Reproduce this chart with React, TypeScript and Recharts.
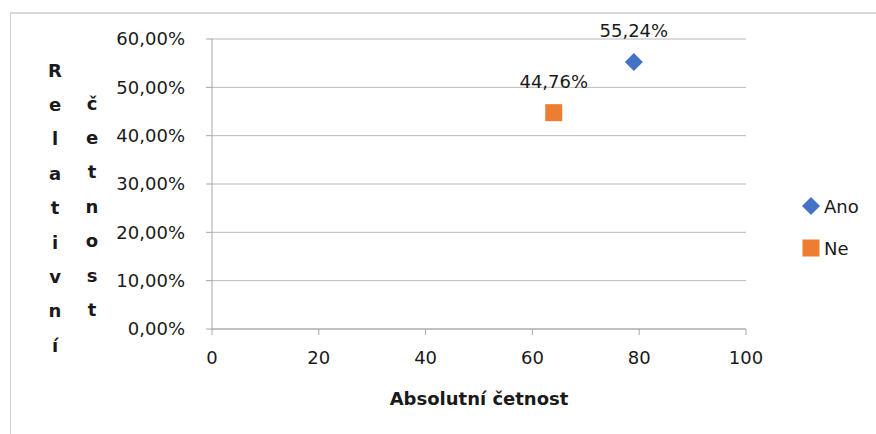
import type { JSX } from 'react';
import {
  CartesianGrid,
  Label,
  Legend,
  Scatter,
  ScatterChart,
  XAxis,
  YAxis,
} from 'recharts';

const seriesNames = ['Ano', 'Ne'];
const absoluteCounts = [79, 64];
const relativeShares = [55.24, 44.76];
const seriesColors = ['#4472C4', '#ED7D31'];
const seriesShapes = ['diamond', 'square'];
const xTicks = [0, 20, 40, 60, 80, 100];
const yTicks = [0, 10, 20, 30, 40, 50, 60];
const xTitle = 'Absolutní četnost';
const yTitleWords = ['Relativní', 'četnost'];

const FONT = '"DejaVu Sans", sans-serif';
const TEXT = '#1a1a1a';

const formatPercent = (v: number): string => `${v.toFixed(2).replace('.', ',')}%`;

function Marker({ kind, color, cx, cy }: { kind: string; color: string; cx: number; cy: number }): JSX.Element {
  if (kind === 'diamond') {
    return (
      <polygon
        points={`${cx},${cy - 9} ${cx + 9},${cy} ${cx},${cy + 9} ${cx - 9},${cy}`}
        fill={color}
      />
    );
  }
  return <rect x={cx - 8.5} y={cy - 8.5} width={17} height={17} fill={color} />;
}

function pointShape(kind: string, color: string) {
  return (props: any) => (
    <g>
      <Marker kind={kind} color={color} cx={props.cx} cy={props.cy} />
      <text
        x={props.cx}
        y={props.cy - 25}
        textAnchor="middle"
        fontFamily={FONT}
        fontSize={18}
        fill={TEXT}
      >
        {formatPercent(props.payload.y)}
      </text>
    </g>
  );
}

function YTitle({ viewBox }: any): JSX.Element {
  const left = viewBox?.x ?? 0;
  return (
    <g fontFamily={FONT} fontSize={18} fontWeight="bold" fill={TEXT}>
      {yTitleWords.map((word, col) =>
        Array.from(word).map((ch, i) => (
          <text
            key={`${col}-${i}`}
            x={left + 55 + col * 37}
            y={70 + col * 33 + i * 34.4}
            textAnchor="middle"
            dominantBaseline="central"
          >
            {ch}
          </text>
        )),
      )}
    </g>
  );
}

function XTitle({ viewBox }: any): JSX.Element {
  return (
    <text
      x={viewBox.x + viewBox.width / 2}
      y={viewBox.y + 69}
      textAnchor="middle"
      dominantBaseline="central"
      fontFamily={FONT}
      fontSize={18}
      fontWeight="bold"
      fill={TEXT}
    >
      {xTitle}
    </text>
  );
}

function LegendBox(): JSX.Element {
  return (
    <div style={{ fontFamily: FONT, fontSize: 18, color: TEXT }}>
      {seriesNames.map((name, i) => (
        <div key={name} style={{ display: 'flex', alignItems: 'center', height: 22, marginBottom: 20 }}>
          <svg width={22} height={22}>
            <Marker kind={seriesShapes[i]} color={seriesColors[i]} cx={11} cy={11} />
          </svg>
          <span style={{ marginLeft: 2 }}>{name}</span>
        </div>
      ))}
    </div>
  );
}

export default function App(): JSX.Element {
  return (
    <div
      style={{
        position: 'absolute',
        left: 0,
        top: 0,
        width: 876,
        height: 434,
        overflow: 'hidden',
        background: '#fff',
      }}
    >
      <div
        style={{
          position: 'absolute',
          left: 10,
          top: 12,
          width: 1000,
          height: 1000,
          borderLeft: '1px solid #d0d0d0',
          borderTop: '2px solid #d9d9d9',
        }}
      />
      <ScatterChart
        width={876}
        height={434}
        margin={{ top: 39, right: 130, bottom: 30, left: 0 }}
      >
        <CartesianGrid vertical={false} stroke="#b8b8b8" />
        <XAxis
          type="number"
          dataKey="x"
          domain={[0, 100]}
          ticks={xTicks}
          height={75}
          stroke="#a6a6a6"
          tickSize={6}
          tickMargin={16}
          tick={{ fill: TEXT, fontSize: 18, fontFamily: FONT }}
        >
          <Label content={<XTitle />} />
        </XAxis>
        <YAxis
          type="number"
          dataKey="y"
          domain={[0, 60]}
          ticks={yTicks}
          width={212}
          stroke="#a6a6a6"
          tickSize={6}
          tickMargin={21}
          tickFormatter={formatPercent}
          tick={{ fill: TEXT, fontSize: 18, fontFamily: FONT }}
        >
          <Label content={<YTitle />} />
        </YAxis>
        <Legend
          layout="vertical"
          align="center"
          verticalAlign="middle"
          content={<LegendBox />}
          wrapperStyle={{ left: 800, top: 195, width: 76 }}
        />
        {seriesNames.map((name, i) => (
          <Scatter
            key={name}
            name={name}
            data={[{ x: absoluteCounts[i], y: relativeShares[i] }]}
            fill={seriesColors[i]}
            shape={pointShape(seriesShapes[i], seriesColors[i])}
            isAnimationActive={false}
          />
        ))}
      </ScatterChart>
    </div>
  );
}
